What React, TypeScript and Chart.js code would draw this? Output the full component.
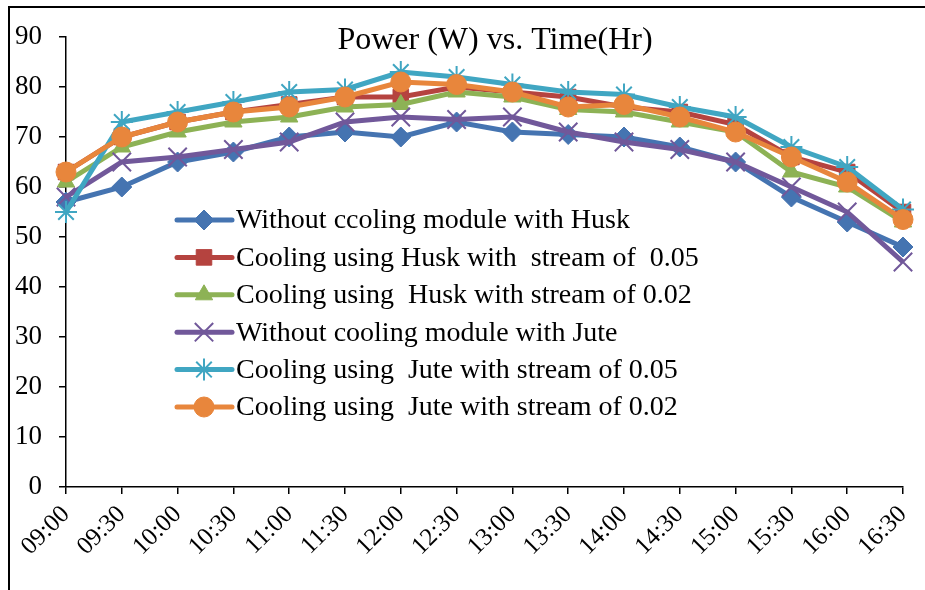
import React, { useEffect, useRef } from 'react';
import { Chart, registerables } from 'chart.js';
import { drawPoint } from 'chart.js/helpers';

Chart.register(...registerables);

const times = ['09:00', '09:30', '10:00', '10:30', '11:00', '11:30', '12:00', '12:30', '13:00', '13:30', '14:00', '14:30', '15:00', '15:30', '16:00', '16:30'];

const huskNoCooling = [57, 60, 65, 67, 70, 71, 70, 73, 71, 70.5, 70, 68, 65, 58, 53, 48];
const huskStream005 = [63, 70, 73, 75, 76.5, 78, 78, 80, 79, 78, 76, 75, 72.5, 66, 63, 55];
const huskStream002 = [61, 68, 71, 73, 74, 76, 76.5, 79, 78, 75.5, 75, 73, 71, 63, 60, 53];
const juteNoCooling = [58, 65, 66, 67.5, 69, 73, 74, 73.5, 74, 71, 69, 67.5, 65, 60, 55, 45];
const juteStream005 = [55, 73, 75, 77, 79, 79.5, 83, 82, 80.5, 79, 78.5, 76, 74, 68, 64, 55.5];
const juteStream002 = [63, 70, 73, 75, 76, 78, 81, 80.5, 79, 76, 76.5, 74, 71, 66, 61, 53.5];

const seriesLabels = [
  'Without ccoling module with Husk',
  'Cooling using Husk with  stream of  0.05',
  'Cooling using  Husk with stream of 0.02',
  'Without cooling module with Jute',
  'Cooling using  Jute with stream of 0.05',
  'Cooling using  Jute with stream of 0.02',
];

const chartTitle = 'Power (W) vs. Time(Hr)';
const yTicks = { min: 0, max: 90, step: 10 };

const SERIF = '"Liberation Serif", "Times New Roman", serif';

const styles = [
  { color: '#4574B1', pointStyle: 'rectRot', radius: 10, pbw: 1 },
  { color: '#B5433F', pointStyle: 'rect', radius: 11, pbw: 1 },
  { color: '#8DB255', pointStyle: 'triangle', radius: 10, pbw: 1 },
  { color: '#71589A', pointStyle: 'crossRot', radius: 13, pbw: 2 },
  { color: '#40A6C2', pointStyle: 'star', radius: 11, pbw: 2 },
  { color: '#E8863C', pointStyle: 'circle', radius: 10, pbw: 1 },
];

const frameAndDecorations = {
  id: 'frameAndDecorations',
  beforeDraw(chart: any) {
    const ctx = chart.ctx;
    ctx.save();
    ctx.fillStyle = '#ffffff';
    ctx.fillRect(0, 0, chart.width, chart.height);
    ctx.restore();
  },
  afterDraw(chart: any) {
    const ctx = chart.ctx;
    ctx.save();
    ctx.strokeStyle = '#000000';
    ctx.lineWidth = 2;
    ctx.beginPath();
    ctx.moveTo(9, chart.height + 2);
    ctx.lineTo(9, 7);
    ctx.lineTo(chart.width + 2, 7);
    ctx.stroke();
    ctx.fillStyle = '#000000';
    ctx.font = '32px ' + SERIF;
    ctx.textAlign = 'center';
    ctx.textBaseline = 'alphabetic';
    ctx.fillText(chartTitle, 495, 49);
    const x0 = 177;
    const x1 = 232;
    const xm = 204;
    const tx = 236;
    chart.data.datasets.forEach((ds: any, i: number) => {
      const y = 220 + i * 37.4;
      ctx.strokeStyle = ds.borderColor;
      ctx.lineWidth = 5;
      ctx.lineCap = 'round';
      ctx.beginPath();
      ctx.moveTo(x0, y);
      ctx.lineTo(x1, y);
      ctx.stroke();
      ctx.lineCap = 'butt';
      ctx.fillStyle = ds.pointBackgroundColor;
      ctx.strokeStyle = ds.pointBorderColor;
      ctx.lineWidth = ds.pointBorderWidth;
      drawPoint(ctx, { pointStyle: ds.pointStyle, rotation: 0, radius: ds.pointRadius, borderWidth: ds.pointBorderWidth }, xm, y);
      ctx.fillStyle = '#000000';
      ctx.font = '28px ' + SERIF;
      ctx.textAlign = 'left';
      ctx.textBaseline = 'middle';
      ctx.fillText(ds.label, tx, y + 1);
    });
    ctx.restore();
  },
};

export default function App() {
  const canvasRef = useRef<HTMLCanvasElement | null>(null);

  useEffect(() => {
    if (!canvasRef.current) return;
    const values = [huskNoCooling, huskStream005, huskStream002, juteNoCooling, juteStream005, juteStream002];
    const datasets = values.map((data, i) => ({
      label: seriesLabels[i],
      data,
      borderColor: styles[i].color,
      backgroundColor: styles[i].color,
      borderWidth: 5,
      pointStyle: styles[i].pointStyle,
      pointRadius: styles[i].radius,
      pointBackgroundColor: styles[i].color,
      pointBorderColor: styles[i].color,
      pointBorderWidth: styles[i].pbw,
      tension: 0,
      fill: false,
      clip: false as any,
      order: values.length - 1 - i,
    }));

    const chart = new Chart(canvasRef.current, {
      type: 'line',
      data: { labels: times, datasets },
      plugins: [frameAndDecorations],
      options: {
        responsive: false,
        animation: false,
        devicePixelRatio: 1,
        layout: { padding: { left: 0, top: 37, right: 22, bottom: 0 } },
        plugins: {
          legend: { display: false },
          title: { display: false },
          tooltip: { enabled: false },
        },
        scales: {
          x: {
            type: 'category',
            offset: false,
            afterFit: (scale: any) => {
              scale.height = 103;
              scale.paddingLeft = 0;
              scale.paddingRight = 0;
            },
            grid: { drawOnChartArea: false, drawTicks: true, tickLength: 7, color: '#000000', lineWidth: 1.5 },
            border: { display: true, color: '#000000', width: 1.5 },
            ticks: {
              color: '#000000',
              font: { family: SERIF, size: 25 },
              maxRotation: 45,
              minRotation: 45,
              autoSkip: false,
              padding: 6,
            },
          },
          y: {
            min: yTicks.min,
            max: yTicks.max,
            afterFit: (scale: any) => {
              scale.width = 66;
              scale.paddingTop = 0;
              scale.paddingBottom = 0;
            },
            grid: { drawOnChartArea: false, drawTicks: true, tickLength: 7, color: '#000000', lineWidth: 1.5 },
            border: { display: true, color: '#000000', width: 1.5 },
            ticks: {
              stepSize: yTicks.step,
              color: '#000000',
              font: { family: SERIF, size: 27 },
              padding: 17,
            },
          },
        },
      },
    });
    return () => chart.destroy();
  }, []);

  return (
    <div style={{ position: 'fixed', left: 0, top: 0, width: 925, height: 590, background: '#fff' }}>
      <canvas ref={canvasRef} width={925} height={590} style={{ width: 925, height: 590, display: 'block' }} />
    </div>
  );
}
